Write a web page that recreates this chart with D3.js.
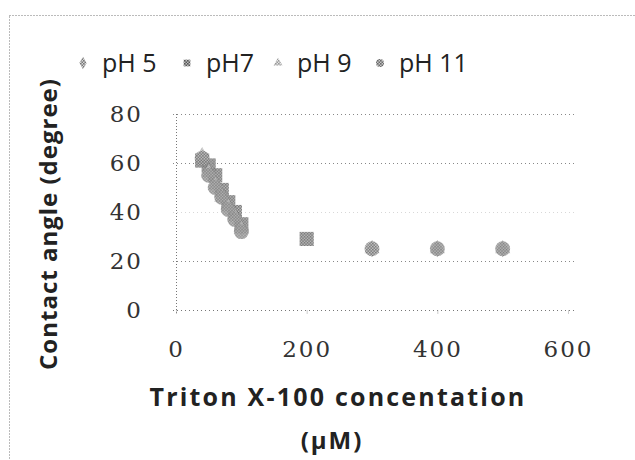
<!DOCTYPE html>
<html>
<head>
<meta charset="utf-8">
<script src="https://cdn.jsdelivr.net/npm/d3@7"></script>
<style>
  body { margin: 0; background: #fff; }
  svg { display: block; }
</style>
</head>
<body>
<div id="chart"></div>
<script>
// data (only the marks that show are kept)
const concentrations = [40, 50, 60, 70, 80, 90, 100, 200, 300, 400, 500];
const ph5  = [62, 57, 52, 47, 43, 39, 34, null, 25, 25, 25];
const ph7  = [61, 59, 55, 49, 44, 40, 35, 29, null, null, null];
const ph9  = [63, 56, 51, 46, 42, 38, 33, null, 25, 25, 25];
const ph11 = [62, 55, 50, 46, 41, 37, 32, null, 25, 25, 25];
const seriesNames = ["pH 5", "pH7", "pH 9", "pH 11"];
const yTicks = [0, 20, 40, 60, 80];
const xTicks = [0, 200, 400, 600];

const W = 635, H = 460;
const margin = { top: 114, right: 62, bottom: 150, left: 176 };

const svg = d3.select("#chart").append("svg")
    .attr("width", W)
    .attr("height", H);

// dithered fills like the scanned print
const defs = svg.append("defs");
const pats = [
    { id: "p5",  dark: "#777", light: "#d8d8d8" },
    { id: "p7",  dark: "#555", light: "#bdbdbd" },
    { id: "p9",  dark: "#999", light: "#e6e6e6" },
    { id: "p11", dark: "#6a6a6a", light: "#c8c8c8" }
];
pats.forEach(p => {
    let pat = defs.append("pattern")
        .attr("id", p.id)
        .attr("width", 3).attr("height", 3)
        .attr("patternUnits", "userSpaceOnUse");
    pat.append("rect").attr("width", 3).attr("height", 3).attr("fill", p.light);
    pat.append("rect").attr("width", 1.6).attr("height", 1.6).attr("fill", p.dark);
    pat.append("rect").attr("x", 1.5).attr("y", 1.5).attr("width", 1.5).attr("height", 1.5).attr("fill", p.dark);
});

// outer dotted frame (runs off the right and bottom)
svg.append("rect")
    .attr("x", 9.5).attr("y", 15.5)
    .attr("width", 700).attr("height", 600)
    .attr("fill", "none")
    .attr("stroke", "#777")
    .attr("stroke-width", 1)
    .attr("stroke-dasharray", "1,2");

const x = d3.scaleLinear().domain([0, 600]).range([margin.left, 568]);
const y = d3.scaleLinear().domain([0, 80]).range([310, margin.top]);

const g = svg.append("g");

// gridlines
g.selectAll(".grid")
    .data(yTicks.filter(d => d > 0))
    .enter().append("line")
    .attr("class", "grid")
    .attr("x1", x(0) - 3).attr("x2", 574)
    .attr("y1", d => Math.round(y(d)) + 0.5)
    .attr("y2", d => Math.round(y(d)) + 0.5)
    .attr("stroke", d => d == 40 ? "#d8d8d8" : "#888")
    .attr("stroke-width", 1)
    .attr("stroke-dasharray", "1,3");

// axis lines, dotted
g.append("line")
    .attr("x1", x(0) + 0.5).attr("x2", x(0) + 0.5)
    .attr("y1", y(80)).attr("y2", y(0) + 4)
    .attr("stroke", "#777").attr("stroke-dasharray", "1,2");
g.append("line")
    .attr("x1", x(0) - 3).attr("x2", 574)
    .attr("y1", Math.round(y(0)) + 0.5).attr("y2", Math.round(y(0)) + 0.5)
    .attr("stroke", "#777").attr("stroke-dasharray", "1,3");

// y axis labels
const yAxis = d3.axisLeft(y).tickValues(yTicks).tickSize(0).tickPadding(33);
const yg = g.append("g")
    .attr("transform", "translate(" + x(0) + ",0)")
    .call(yAxis);
yg.select(".domain").remove();
yg.selectAll("text")
    .attr("font-family", "'DejaVu Serif', serif")
    .attr("font-size", 23)
    .attr("fill", "#333")
    .attr("letter-spacing", 2);

// x axis labels
const xAxis = d3.axisBottom(x).tickValues(xTicks).tickSize(4).tickPadding(26);
const xg = g.append("g")
    .attr("transform", "translate(0," + (Math.round(y(0)) + 0.5) + ")")
    .call(xAxis);
xg.select(".domain").remove();
xg.selectAll("line").attr("stroke", "#999").attr("stroke-dasharray", "1,1");
xg.selectAll("text")
    .attr("font-family", "'DejaVu Serif', serif")
    .attr("font-size", 23)
    .attr("fill", "#333")
    .attr("letter-spacing", 2);

// points
const series = [ph5, ph7, ph9, ph11];
const shapes = [d3.symbolDiamond, d3.symbolSquare, d3.symbolTriangle, d3.symbolCircle];
const sizes = [85, 200, 100, 175];

series.forEach((vals, si) => {
    let sym = d3.symbol().type(shapes[si]).size(sizes[si]);
    g.selectAll(".pt" + si)
        .data(vals.map((v, i) => ({ c: concentrations[i], v: v })).filter(d => d.v != null))
        .enter().append("path")
        .attr("class", "pt" + si)
        .attr("d", sym)
        .attr("transform", d => "translate(" + x(d.c) + "," + y(d.v) + ")")
        .attr("fill", "url(#" + pats[si].id + ")")
        .attr("opacity", 0.85);
});

// legend
const legendX = [83, 187, 278, 380];
const legSizes = [45, 45, 35, 50];
const leg = svg.append("g");
seriesNames.forEach((name, i) => {
    let sym = d3.symbol().type(shapes[i]).size(legSizes[i]);
    leg.append("path")
        .attr("d", sym)
        .attr("transform", "translate(" + legendX[i] + ",63)")
        .attr("fill", "url(#" + pats[i].id + ")");
    leg.append("text")
        .attr("x", legendX[i] + 19)
        .attr("y", 63)
        .attr("dy", "0.36em")
        .attr("font-family", "'Open Sans', sans-serif")
        .attr("font-size", 25)
        .attr("fill", "#222")
        .text(name);
});

// axis titles
svg.append("text")
    .attr("transform", "translate(49,224) rotate(-90)")
    .attr("text-anchor", "middle")
    .attr("dy", "0.35em")
    .attr("font-family", "'Open Sans', sans-serif")
    .attr("font-weight", "bold")
    .attr("font-size", 24)
    .attr("letter-spacing", 1)
    .attr("fill", "#222")
    .text("Contact angle (degree)");

svg.append("text")
    .attr("x", 338).attr("y", 397)
    .attr("text-anchor", "middle")
    .attr("dy", "0.35em")
    .attr("font-family", "'Open Sans', sans-serif")
    .attr("font-weight", "bold")
    .attr("font-size", 25)
    .attr("letter-spacing", 2.2)
    .attr("fill", "#222")
    .text("Triton X-100 concentation");

svg.append("text")
    .attr("x", 332).attr("y", 441)
    .attr("text-anchor", "middle")
    .attr("dy", "0.35em")
    .attr("font-family", "'Open Sans', sans-serif")
    .attr("font-weight", "bold")
    .attr("font-size", 24)
    .attr("letter-spacing", 2)
    .attr("fill", "#222")
    .text("(\u00b5M)");
</script>
</body>
</html>
